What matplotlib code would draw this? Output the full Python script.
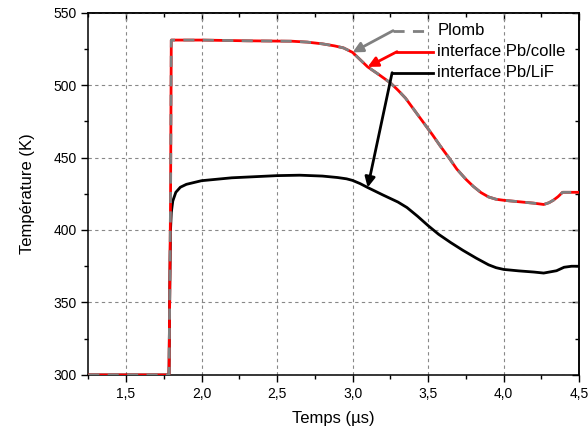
import matplotlib
matplotlib.use("Agg")
import matplotlib.pyplot as plt
from matplotlib.ticker import MultipleLocator, FuncFormatter

plt.rcParams['font.family'] = ['Liberation Sans', 'DejaVu Sans']

# upper curves: Plomb and interface Pb/colle (almost identical)
t_up = [1.25, 1.785, 1.795, 1.80, 1.81, 2.0, 2.3, 2.6, 2.7, 2.8, 2.88, 2.94, 3.0, 3.05, 3.1,
        3.17, 3.25, 3.3, 3.35, 3.41, 3.47, 3.53, 3.58, 3.64, 3.69, 3.75, 3.8, 3.85, 3.9,
        3.95, 4.0, 4.05, 4.11, 4.2, 4.265, 4.3, 4.33, 4.36, 4.39, 4.42, 4.5]
T_colle = [300, 300, 420, 531, 531, 531, 530.5, 530.2, 529.6, 528.4, 527, 525.6, 522.5, 517.5, 512.5,
           507.5, 501.5, 496.5, 491, 482.5, 474, 465.5, 458, 449.5, 442, 435, 430, 425.8, 422.8,
           421.2, 420.5, 420, 419.4, 418.5, 417.6, 418.8, 420.6, 423, 426, 426, 426]
T_plomb = list(T_colle)

# lower curve: interface Pb/LiF
t_lif = [1.25, 1.785, 1.79, 1.795, 1.80, 1.81, 1.83, 1.86, 1.9, 2.0, 2.2, 2.5, 2.65, 2.8, 2.9,
         2.96, 3.0, 3.05, 3.1, 3.2, 3.3, 3.36, 3.43, 3.5, 3.57, 3.65, 3.73, 3.82, 3.9, 3.95,
         4.0, 4.1, 4.2, 4.265, 4.35, 4.4, 4.45, 4.5]
T_lif = [300, 300, 360, 400, 412, 420, 426, 429.5, 431.5, 434, 436, 437.5, 437.8, 437.2, 436.2,
         435.3, 434.2, 432, 429.3, 424.2, 419.3, 415.5, 409.5, 403, 397, 391.3, 386, 380.5, 376, 374,
         372.8, 371.8, 371, 370.3, 371.9, 374.3, 375, 375]

fig = plt.figure(figsize=(5.88, 4.32), dpi=100)
ax = fig.add_axes([0.150, 0.132, 0.835, 0.839])

ax.plot(t_lif, T_lif, color='black', lw=2, zorder=3)
ax.plot(t_up, T_colle, color='red', lw=2, zorder=4)
ax.plot(t_up, T_plomb, color='#808080', lw=2, dashes=(4, 3), zorder=5)

ax.set_xlim(1.25, 4.5)
ax.set_ylim(300, 550)
ax.xaxis.set_major_locator(MultipleLocator(0.5))
ax.xaxis.set_minor_locator(MultipleLocator(0.25))
ax.yaxis.set_major_locator(MultipleLocator(50))
ax.yaxis.set_minor_locator(MultipleLocator(25))
ax.xaxis.set_major_formatter(FuncFormatter(lambda v, p: f"{v:.1f}".replace('.', ',')))
ax.tick_params(which='major', direction='out', length=5, width=1, labelsize=10)
ax.tick_params(which='minor', direction='out', length=3, width=1)
ax.grid(True, which='major', color='#888888', ls=(0, (3, 3)), lw=0.8)
for s in ax.spines.values():
    s.set_linewidth(1.1)

# inward ticks on top and right
top = ax.secondary_xaxis('top')
right = ax.secondary_yaxis('right')
top.xaxis.set_major_locator(MultipleLocator(0.5))
top.xaxis.set_minor_locator(MultipleLocator(0.25))
right.yaxis.set_major_locator(MultipleLocator(50))
right.yaxis.set_minor_locator(MultipleLocator(25))
for sec in (top, right):
    sec.tick_params(which='major', direction='in', length=5, width=1, labelleft=False,
                    labelright=False, labeltop=False, labelbottom=False)
    sec.tick_params(which='minor', direction='in', length=3, width=1)
    for s in sec.spines.values():
        s.set_linewidth(1.1)

ax.set_xlabel('Temps (µs)', fontsize=12, labelpad=7)
ax.set_ylabel('Température (K)', fontsize=12, labelpad=13)

# legend drawn with arrows pointing to the curves
leg_y = [0.950, 0.892, 0.834]
labels = ['Plomb', 'interface Pb/colle', 'interface Pb/LiF']
colors = ['#808080', 'red', 'black']
for y, lab in zip(leg_y, labels):
    ax.text(0.711, y, lab, transform=ax.transAxes, fontsize=12, va='center', ha='left')

ax.plot([0.621, 0.690], [leg_y[0], leg_y[0]], transform=ax.transAxes, color=colors[0],
        lw=2, dashes=(4, 3), clip_on=False)
ax.plot([0.629, 0.702], [leg_y[1], leg_y[1]], transform=ax.transAxes, color=colors[1],
        lw=2, clip_on=False)
ax.plot([0.619, 0.702], [leg_y[2], leg_y[2]], transform=ax.transAxes, color=colors[2],
        lw=2, clip_on=False)

targets = [(t_up[12], T_plomb[12]), (t_up[14], T_colle[14]), (t_lif[18], T_lif[18])]
starts = [(0.621, leg_y[0]), (0.629, leg_y[1]), (0.619, leg_y[2])]
for (tx, ty), (sx, sy), c in zip(targets, starts, colors):
    ax.annotate('', xy=(tx, ty), xycoords='data', xytext=(sx, sy), textcoords='axes fraction',
                arrowprops=dict(arrowstyle='-|>', color=c, lw=2, mutation_scale=15,
                                shrinkA=0, shrinkB=0), zorder=6)

fig.savefig('out.png', dpi=100)
